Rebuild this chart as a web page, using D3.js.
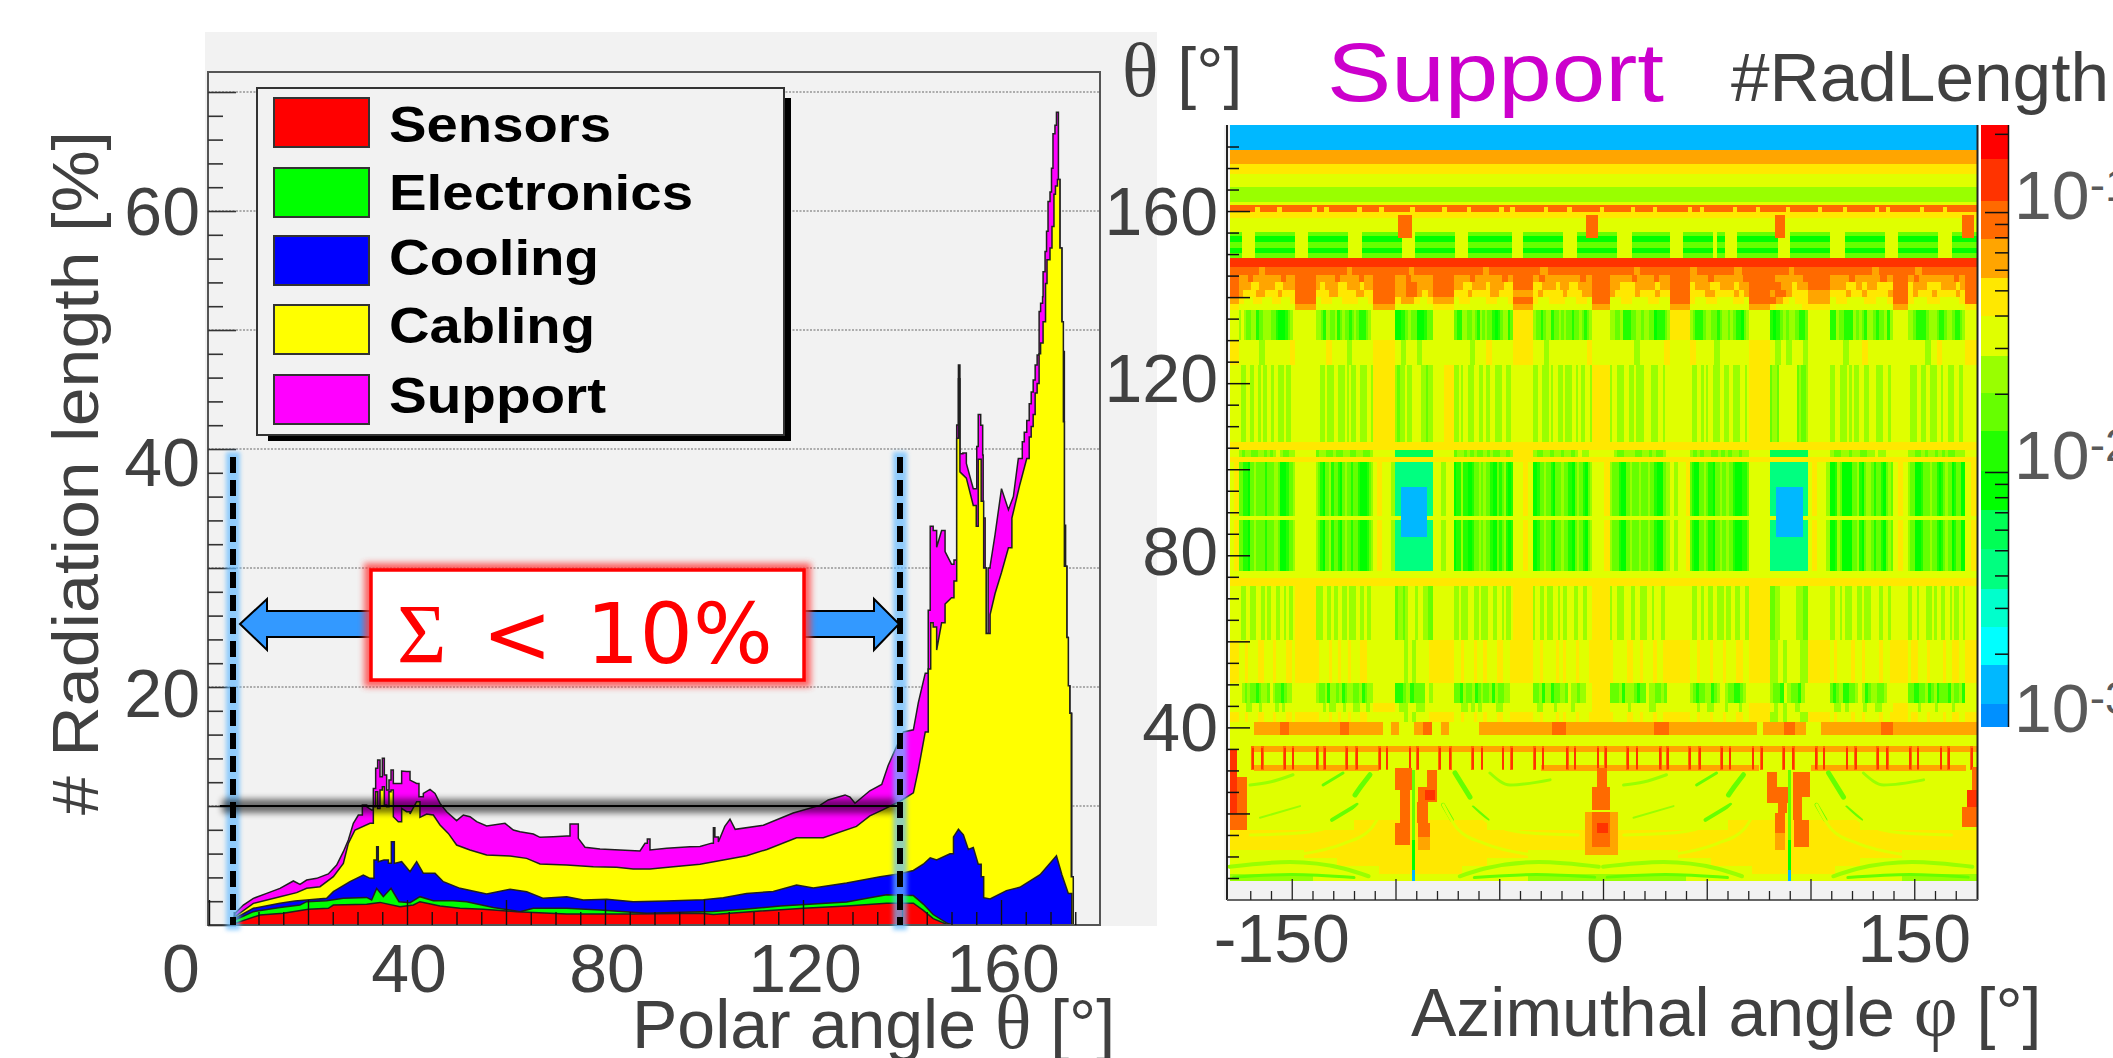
<!DOCTYPE html>
<html>
<head>
<meta charset="utf-8">
<script src="https://cdn.jsdelivr.net/npm/d3@7"></script>
<style>
  html, body { margin: 0; padding: 0; background: #fff; overflow: hidden; }
  text { font-family: "Liberation Sans", sans-serif; fill: #404040; }
</style>
</head>
<body>
<svg id="chart" width="2113" height="1058"></svg>
<script>
// ---- left panel: stacked radiation length, each layer read as its stack top
const sensorsTheta = [4.8,5.25,10.3,15,20.07,24.11,25.12,31.85,34.55,38.59,41.28,42.62,46.67,50.71,55.42,62.16,72.26,85.72,99.19,101.9,110,120.1,128.8,136.9,142.3,144.3,146.3,149,149.7];
const sensorsTop   = [0,0.14,0.84,0.98,1.32,1.4,1.68,1.74,1.9,1.54,1.68,1.96,1.6,1.4,1.32,1.12,0.92,0.92,0.98,0.88,1.13,1.41,1.59,1.83,1.83,1.23,0.53,0.07,0];

const electronicsTheta = [4.8,5.25,8.96,14.34,18.38,19.73,23.77,27.14,31.85,32.86,33.87,35.22,36.77,38.38,40.61,42.62,45.32,49.36,52.05,57.44,60.81,62.83,65.52,72.26,78.99,88.42,99.19,101.9,108.6,115.4,122.1,128.8,133.5,136.9,142.3,144.3,146.3,149,150];
const electronicsTop   = [0,0.42,1.12,1.48,1.68,1.96,2.04,2.24,2.32,2.1,3.08,2.38,3.08,1.96,1.88,2.38,2.04,2.04,1.96,1.48,1.26,1.12,1.4,1.4,1.26,0.98,1.12,1.13,1.34,1.59,1.76,1.94,2.29,2.54,2.47,1.76,0.88,0.18,0];

const coolingTheta = [4.8,5.25,8.96,14.34,17.37,19.73,23.77,25.12,28.48,31.18,32.53,33.33,33.87,34.2,35.35,36.23,36.84,37.44,38.92,40.61,41.95,43.3,45.66,47.34,50.71,56.09,60.81,64.18,67.54,72.26,75.62,80.34,85.72,92.46,99.9,103.9,108.6,114,118.7,122.1,128.8,135.6,139.6,142.3,144.3,145.7,147,149.7,150.4,151.4,152.4,153.4,154.4,155.4,156,156.5,157.8,161.1,163.8,167.9,171.2,172.3,173.6,174.3];
const coolingTop   = [0,0.56,1.4,1.82,2.02,2.1,2.24,2.8,3.64,4.2,3.92,5.46,6.58,5.32,5.46,5.18,7,5.18,5.32,4.48,5.32,4.34,4.34,3.64,3.08,2.61,3,2.8,2.24,2.38,2.1,2.16,1.96,2.02,2.12,2.29,2.64,2.82,3.35,3.1,3.53,4.05,4.3,4.58,5.11,5.64,5.47,5.99,7.4,8.04,7.58,6.35,6.52,5.11,4.05,2.29,2.19,2.89,3.17,4.23,5.82,4.23,2.64,0];

const cablingTheta = [4.8,5.25,8.96,14.34,17.71,19.73,22.42,25.12,27.14,28.15,29.5,32.53,33.2,33.67,34.07,34.55,35.02,35.42,35.89,36.36,36.77,37.24,38.25,38.92,39.93,40.61,41.95,42.62,43.97,45.32,46.67,48.35,50.03,52.73,56.09,60.81,64.18,66.87,72.26,77.64,82.36,85.72,89.09,93.8,99.2,103.9,108.6,112.7,118.7,124.1,130.8,133.5,136.2,139.6,142.3,143.3,144.7,145.3,145.8,146.3,147,148,148.7,150,150.5,151.05,151.4,151.7,153,154.4,155,155.4,156,156.5,157,157.8,158.8,160.1,161.5,162.2,163.8,165.2,165.7,166.1,166.5,166.9,167.3,167.7,168,168.5,169,169.3,169.9,170.3,170.7,171,171.4,171.9,172.3,172.6,172.8,173.3,173.6,173.9,174.2,174.6];
const cablingTop   = [0,0.7,1.82,2.38,2.72,3.08,3.22,4.06,5.18,6.86,7.98,8.54,9.94,11.2,9.8,11.34,11.62,10.08,9.94,11.2,11.34,9.1,8.68,9.8,9.52,9.33,10.36,9.05,9.33,9.24,8.4,7.7,6.72,6.3,5.88,5.8,5.6,5.13,5.04,4.9,4.85,4.71,4.71,4.9,5.11,5.47,5.82,6.35,7.33,7.33,8.29,9.17,9.7,10.4,11.11,13.05,16.22,21.51,25.39,25.04,23.1,25.39,26.97,27.5,28.91,40.9,45.9,38.08,37.55,35.26,33.5,39.14,35.6,30,24.5,26.09,27.86,29.62,31.7,34.2,37,39.2,41,41.9,42.9,44.7,45.5,48,48.9,50.7,53.9,55.9,56.9,58.7,61.4,62.1,62.65,56.9,50.7,42.3,30.15,24.15,20.1,17.8,4.05,0];

const supportTheta = [4.8,5.25,6.94,8.96,11.65,14.34,17.04,18.38,19.73,21.75,24.11,25.79,27.14,28.15,29.16,30.17,30.98,31.85,32.86,33.2,33.67,34.07,34.55,35.02,35.42,35.89,36.36,36.77,37.24,37.71,38.38,38.92,39.93,40.61,41.95,42.42,43.3,44.65,45.66,46.67,48.01,50.03,51.38,52.73,54.07,56.09,59.8,61.48,62.83,65.52,66.87,69.56,72.26,72.93,73.8,74.61,75.96,78.99,83.03,87.07,88.08,88.55,89.09,92.46,97.17,99.2,101.55,101.9,102.2,102.9,104.2,105.25,106.3,112,118,123.4,125.1,128.5,129.5,130.5,133.5,135.9,137.2,138.9,140.3,142.3,143.3,144.7,145.3,145.7,146.3,147,148,148.7,150,150.5,151.05,151.4,151.7,152.3,153,154.4,155.1,155.4,155.9,156.3,156.4,156.8,157,157.4,157.8,158.8,160.1,161.5,162.5,163.5,164.3,164.7,165.2,165.7,166.1,166.5,166.9,167.3,167.7,168,168.4,168.5,168.9,169.2,169.5,169.9,170.2,170.5,170.9,171.2,171.6,171.9,172.3,172.8,173.05,173.3,173.6,173.9,174.3,174.6];
const supportTop   = [0,0.98,1.68,2.24,2.66,3.08,3.7,3.42,3.78,3.92,4.29,5.04,6.16,7.14,8.54,9.24,10.08,9.94,9.66,11.48,13.17,13.87,12.46,14.01,12.61,11.34,12.18,13.03,11.9,11.9,11.9,12.94,12.89,12.18,11.9,10.78,11.06,11.4,11.06,10.22,9.52,8.77,9.24,9.1,8.68,8.32,8.54,7.98,7.84,7.65,7.37,7.42,7.48,8.49,8.49,7.28,6.53,6.39,6.3,6.22,6.86,7.23,6.3,6.44,6.58,6.59,6.88,8.18,7.4,6.98,8.29,8.89,8.04,8.39,9.41,10.05,10.51,10.93,10.75,10.23,11.28,11.81,13.4,14.99,16.22,16.4,18.69,21.16,26.45,33.5,33.15,31.74,33.15,31.38,30.32,30.68,42.02,47.06,39.6,39.67,38.79,36.67,40.2,42.9,42,39.5,34.2,30,24.5,30,30.15,32.8,36.67,34.9,36,39.2,40.6,41.4,42.4,43.8,44.8,45.8,47.06,47.9,51.55,52.25,52.8,54.9,56.6,58.3,60.8,61.6,63.6,66.5,67.2,68.3,62.65,56.9,48.2,33.6,30.15,24.15,20.1,17.8,4.05,0];

const layerNames  = ["Sensors","Electronics","Cooling","Cabling","Support"];
const layerColors = ["#ff0000","#00ff00","#0000ff","#ffff00","#ff00ff"];
const legendWidths = [222,304,210,206,217];
const legendBase   = [142,210,275,343,413];

// ---- right panel: material map, cells as colour level codes a..p
const levelCodes  = "abcdefghijklmnop";
const levelColors = ["#0090ff","#00b8ff","#00ffff","#00ffcc","#00ff80","#00ff55","#00ff00","#22ff00","#66ff00","#99ff00","#e0ff00","#ffe800","#ffa500","#ff6a00","#ff3300","#ff0000"];
const levelEdgesLog = [-2.981,-2.892,-2.742,-2.596,-2.45,-2.295,-2.146,-1.995,-1.844,-1.695,-1.552,-1.398,-1.252,-1.102,-0.956,-0.796,-0.665];
const colorbarTicks = [0.002,0.003,0.004,0.005,0.006,0.007,0.008,0.009,0.01,0.02,0.03,0.04,0.05,0.06,0.07,0.08,0.09,0.1,0.2];

// phi sectors of the barrel: gap, module group, gap, ...
const sectors = [[-180,-175.4],[-175.4,-148.4],[-148.4,-138.3],[-138.3,-110.8],[-110.8,-100.2],[-100.2,-81.9],[-81.9,-71.8],[-71.8,-43.4],[-43.4,-33.7],[-33.7,-5.3],[-5.3,3.4],[3.4,32.3],[32.3,41.9],[41.9,70.4],[70.4,80.5],[80.5,98.8],[98.8,109.4],[109.4,139.8],[139.8,147],[147,174.5],[174.5,180]];

const rowTier1 = ["n","nnnnmnnnnnn","n","nnnnnnmnnnn","n","nnnmnnnn","n","nnnnnmnnnn","n","nmnnnnnn","n","nnnnmnnnnn","n","mnnnnnmn","n","nnnnmnnn","n","nnnnnnmnn","n","nmnnnnnn","n"];
const rowTier2 = ["n","mmnmmmmmmnmm","n","mmmmnmmmmnmm","n","mmnmmmm","n","mmmnmmmmmnm","n","mnmmmmmmnm","n","mmmmnmmmnmm","n","mmmnmmmmmn","n","nmmmmmn","n","mmmnmmmmnm","n","mnmmmmmmnm","n"];
const rowTier3 = ["n","mmmllmmmmllmmm","n","mlmmmllmmmlmm","n","mmnnmmm","n","mmllmmmlmmmll","n","llmmmlmmllmmm","n","mmlllmmmmlmm","n","lmmmllmmmlmm","n","nnmmlmm","n","mmmllmlmmlll","n","lmmmlllmmmlm","n"];
const rowTier4 = ["n","mlllmmlllmlll","n","lllmmllllmmll","n","mmnnmlm","n","lllmllllmmlll","m","lmllllmlllmm","n","mllllmlllmll","n","lllmmllllmlm","n","mnnmlll","m","lllmllmllllm","n","lmlllmllllml","n"];
const rowTier5 = ["m","lkkllkkllkkl","n","kllkklllkkl","n","lmmlkl","m","kllkkkllkkl","n","lkklllkkllk","n","kkllkkkllkk","n","lkkllkkkllk","n","nmlkll","m","kllkkkllkkl","n","lkkllkkkl","n"];
const rowTier6 = ["l","kkkkkkkkk","m","kkkkkkkkk","m","kkkkkk","l","kkkkkkkkk","m","kkkkkkkkk","m","kkkkkkkkk","m","kkkkkkkkk","m","lkkkkl","l","kkkkkkkkk","m","kkkkkkkkk","l"];

const barrelUpper = ["k","jkjiijjhiijjjiihggghijk","k","jjihjjiijhijiihijihhhijk","k","gghijiigghii","k","ihhjjiijihjijiihghijjhi","l","jiihijjhiijijiihiijihij","k","jjiijhhhiijjijjiighhhij","l","jihhhijjiihijjijihhgij","k","hghijijjihhi","k","hhjiihhhjijihjjihiijhj","k","jjihhhhijjjihhijjihhij","k"];
const barrelStrong = ["kl","iihhgiijiiiihiiijjiggghiij","kkkkk","jihgiijhiihgijiihiihggghij","klkkj","e","kkjkk","ghhjhhgghiijijiihggihijhgh","kklk","gghiijiihgiiijiihhgijiihgij","kkl","jiiihggiijiiijiiijiihgggijj","kjkkl","ihggiijihhgiijiijiihggghhi","kkkk","e","klkkj","gghjiggggiijhgijjihiihgiji","klk","jiiggghiiijiihghijiighiigg","kl"];
const barrelThin = ["k","jijjiijjijijkjiijj","k","ijjiijiijjiijjiij","k","f","k","ijjijijiijijiijjij","l","jiijjijjijjijkjjk","k","kjiijjjiijjijiijk","k","jijijjiijijijjijj","k","f","k","jiijjijjiijjkjjkk","k","jjiijijjijijiijjj","k"];
const barrelFaint = ["l","kkkkjkkkkkl","k","kklkkkjkkkk","l","kjkkjkk","k","kkkjkklkkkk","l","kkjkkkkkkkl","k","kkkkjkkkkl","k","lkkkjkkkkk","l","kjkjkkj","k","kkjkklkkkk","k","kkkjklkkkk","l"];
const barrelPaleUpper = ["k","kjjkkjjkkjkjjkkjkkjjjkjjkk","k","kkjjkjjjkkjjjkjkjjkkjjjkkj","l","jijjkjjkkkkjjijj","kl","jjkjkkjjjkkjjkjjkkjjjkkjjk","k","jjkkjjjkjkkjjkjjjkkjkjjkkj","l","jkkjjjkkjjkjjjkkkjjjkkjkk","k","kjjkkjkjkkjjjkkjjkkjjjkkjk","l","ijjikkkkkkkkijiij","k","jjkkjjjkjkjjkkjjkkkjjjkkjk","k","kjjjkkjjkkjjjkkjkkjjjkkjjk","k"];
const barrelPaleLower = ["k","kjjkkjjjkkjjkjjkkjjkkjkjjk","l","jjjkkjjkjjkkjjkjjjkkjjkjjk","k","ijjijkkkjkkjjii","k","jjkjjjkkkjjkjjjkkjjkkjkjjk","l","jkkjjkjjjkkjkjjkkkjjkkjjkk","l","jkkjjjkkkjjkkjjjkkjkkkjjkk","k","kjjkkjkkjjkkjjjkjjkkjjkkjj","l","iijjkkkkkkkjjjii","k","jjkkjkjjjkkjjkjjjkkkjjkkjk","k","jjkkjkkkjjjkjkkjjkkjkjjkkj","k"];
const barrelYellow = ["l","kklkkkllkkklkkkllk","l","lkkklkklkklkkkllkk","k","kkjkjkkkl","l","kklkkklkklkkkllkkl","l","kklkkkklklkkklkkkl","l","lkkkkllkklkkklkkll","l","kklkkklkkklkkkllkk","l","jjkjkkkjj","l","klkkkklkklkkkklkkl","l","kllkkklkkkklkkllkk","l"];
const barrelGreenLow = ["k","kjijiihijjikjiihijjk","k","jiijhjjijhijjiijhijj","k","hhijhiiikj","k","iihjiijhijiijhjiijjk","k","iijhjjhiijjikjjijjkk","l","iiijhjjjihiikjjiijik","k","jihiijjhijkkjiihhijk","k","jiihkjiihjk","k","ihijhhiijkjhijjiijkk","k","iihhiijhijhiiihjiijh","k"];
const barrelGreenEnd = ["k","kkjjkkjkkkkjkjkkk","k","kkjkjjkkjkkjjkkjk","l","kjjkkjjkk","k","kkjjkjkjkkkkjjkkk","k","kjjkkkjkkkkjkkkkk","l","kkkkkjkkkkkjjkkkk","k","kkjkkjjkkkjkkkjkk","l","kjkjkkjkk","k","kjjkjkkkkjkkjjkkk","l","kkkjkkkkjkkkkjkkk","k"];

const flat = code => [[-180, 180, code]];
const orangeBand = [[-180,-168,"k"],[-168,-106,"mmmnmmmmmmnmmmm"],[-106,-91,"kmkk"],[-91,-74,"mnkm"],[-74,-60,"k"],[-60,74,"mmmmmnmmmmmmnmmmmmm"],[74,77,"k"],[77,103,"mmnmk"],[103,105,"k"],[105,180,"mmmmmnmmmmmmm"]];
const rowMid = [[-180,-168,"k"],[-168,180,"m"]];
const rowLow = [[-180,-168,"k"],[-168,-108,"m"],[-108,-30,"k"],[-30,75,"m"],[75,100,"k"],[100,175,"m"],[175,180,"k"]];

// base level below theta 30: one 180 degree period, top to bottom
const arcRows = [
  "kkkkkkkkkkkkkkkkkkkkkkkkkkkkkkkkkkkkkkkkkkkkk",
  "kkkkkkkkkkkkkkkkkkkkkkkkkkkkkkkkkkkkkkkkkkkkk",
  "kkkkkkkkkkkkkkkkkkkkkkkkkkkkkkkkkkkkkkkkkkkkk",
  "kkkkkkkkkkkkkkkkkkkkkkkkkkkkkkkkkkkkkkkkkkkkk",
  "kkkkkkkkkkkkkkkkkkkkkkkkkkkkkkkkkkkkkkkkkkkkk",
  "kkkkkkkkkkkkkkkllllllllllllllllkkkkkkkkkkkkkk",
  "llllllllllllllllllllllllllllllllllllllllllllll",
  "llllllllllllllllllllllllllllllllllllllllllllll",
  "kkkkkkkkklllllllllllllllllllllllllllkkkkkkkkk",
  "kkkkkkkkkkkkkllllllllllllllllllkkkkkkkkkkkkkk",
  "kkkkkkkkkkkkkkkkkkllllllllllkkkkkkkkkkkkkkkkk",
  "jjjjjjjjjjkkkkkkkkkkkkkkkkkkkkkkkkkkjjjjjjjjj"
];
const arcEdges = [29.9,27.8,25.5,23.1,20.8,18.5,16.2,13.8,11.5,9.7,7.8,5.9,4.3];

// fine arcs of the end caps, one period: level, width, [phi, theta] points
const arcStrokes = [
  ["j",3,[[-170.1,26.6],[-160.5,27.3],[-149.4,29]]],
  ["i",3,[[-134.9,26.6],[-125.3,29.4]]],
  ["i",5,[[-119.5,24.3],[-116.1,26.6],[-112.3,29]]],
  ["i",4,[[-130.6,18.5],[-118.6,22]]],
  ["j",2,[[-165.3,19],[-146,21.7]]],
  ["i",5,[[-71.3,29.4],[-64.1,23.8]]],
  ["i",4,[[-77.1,22],[-72.8,18.5]]],
  ["i",3,[[-62.7,21.5],[-55.4,18.5]]],
  ["j",3,[[-54.5,29.4],[-44.8,26.6],[-25.5,27.8]]],
  ["k",3,[[-146,10.5],[-125,13],[-112.3,16.2],[-105,22]]],
  ["k",3,[[-36,10.5],[-57,13],[-69.7,16.2],[-77,22]]],
  ["k",3,[[-170,15],[-145,15.5],[-126.7,18],[-115,23]]],
  ["k",3,[[-12,15],[-37,15.5],[-55.3,18],[-67,23]]],
  ["j",4,[[-180,7.6],[-150.8,8.7],[-125,7.2],[-113,5.4]]],
  ["j",4,[[-2,7.6],[-31,8.7],[-57,7.2],[-69,5.4]]],
  ["i",3,[[-178,5.2],[-150,5.8],[-120,5.1]]],
  ["i",3,[[-4,5.2],[-32,5.8],[-62,5.1]]]
];

// bands from top to bottom: theta high, theta low, texture
const mapBands = [
  [180,174.3,flat("b")],[174.3,171,flat("m")],[171,168.7,flat("l")],[168.7,165.7,flat("k")],[165.7,162.2,flat("j")],
  [162.2,161.3,flat("k")],[161.3,159.7,flat("n")],[159.7,158.3,flat("l")],[158.3,149.2,flat("k")],
  [149.2,147.1,flat("o")],[147.1,145.2,rowTier1],[145.2,143.4,rowTier2],[143.4,141.7,rowTier3],[141.7,140.1,rowTier4],
  [140.1,138.5,rowTier5],[138.5,137.1,rowTier6],[137.1,130.1,barrelUpper],[130.1,124.3,barrelFaint],[124.3,106.4,barrelPaleUpper],
  [106.4,104.5,flat("l")],[104.5,102.9,barrelThin],[102.9,101.7,flat("l")],[101.7,89.2,barrelStrong],[89.2,88.3,flat("k")],
  [88.3,76.4,barrelStrong],[76.4,74.8,flat("k")],[74.8,72.9,flat("l")],[72.9,60.3,barrelPaleLower],[60.3,50.3,barrelYellow],
  [50.3,45.7,barrelGreenLow],[45.7,43.5,barrelGreenEnd],[43.5,41.3,barrelYellow],[41.3,38.3,orangeBand],[38.3,35.7,flat("k")],
  [35.7,34.2,rowMid],[34.2,31.3,flat("k")],[31.3,29.9,rowLow]
];

// stave chunks of the green band near theta 152
const staveChunks = [[-180,-174],[-167.7,-148.4],[-142.2,-122.9],[-116.1,-96.9],[-90.6,-71.3],[-65.1,-43.9],[-38.6,-19.3],[-12.5,6.7],[14,32.3],[38.6,53],[54.9,58.8],[64.6,84.3],[90.1,109.4],[116.6,135.9],[142.2,161.4],[168.2,180]];
const staveRows = [[155.2,154.3,"i"],[154.3,152.7,"g"],[152.7,151.5,"i"],[151.5,150.3,"g"],[150.3,149.2,"i"]];
const tileGapPhi = [-166.5,-155.9,-139,-133.3,-117.4,-106.8,-91.8,-76.4,-64.6,-48.9,-43.6,-27.5,-16.1,-0.5,14.5,25,41.9,47.7,63.6,74.7,89.2,104.6,116.6,132,137.3,153.7,164.8];
const redStripePhi = [-168.7,-164.3,-153.3,-149.4,-137.8,-134,-123.4,-118.6,-107.5,-104.1,-93,-89.2,-78.6,-73.7,-62.7,-58.3,-48.2,-43.9,-32.8,-28.9,-17.3,-13.5,-2.4,1.4,12,16.4,27.5,31.3,41.9,46.7,57.3,61.2,72.3,76.6,87.2,91.6,102.7,106.5,117.6,121.9,132.5,136.9,148,151.8,162.9,166.7,177.8];

// rectangular patches: phi from, phi to, theta high, theta low, level
const mapPatches = [
  [-98.8,-92,159,153.8,"n"],[-8.2,-2.4,159,153.8,"n"],[82.9,87.7,159,153.8,"n"],[173,178.8,159,153.8,"n"],
  [-97.5,-84.7,95.9,84.3,"b"],[83.4,96.4,95.9,84.3,"b"],
  [-100.2,-92,30.6,25.5,"n"],[-97.8,-93,25.5,17.8,"n"],[-100.2,-93,17.8,12.7,"n"],
  [-84.8,-80,30.1,26.2,"n"],[-89.2,-80,26.2,22.7,"n"],[-85.8,-81,25.5,23.1,"o"],[-89.6,-84.3,22.7,17.8,"n"],[-89.2,-83.4,17.8,14.5,"n"],[-89.2,-83.4,14.5,11.5,"m"],
  [-2.9,1.9,30.6,26.2,"n"],[-5.3,3.4,26.2,20.8,"n"],[-8.7,7.2,20.3,12.2,"m"],[-5.3,3.4,20.3,12.2,"n"],[-2.9,2.4,17.8,15.5,"o"],[-8.7,7.2,12.2,10.3,"m"],
  [79,83.9,29.7,26.2,"n"],[79,89.2,26.2,22.4,"n"],[84.3,88.7,22.4,20.1,"n"],[82.9,87.7,20.1,15.5,"n"],[82.9,87.7,15.5,11.5,"m"],
  [91.6,99.8,29.7,23.8,"n"],[91.6,95.9,23.8,18.5,"n"],[92,99.3,18.5,12.2,"n"],
  [177.8,180,30.8,25.5,"n"],[175.4,180,25.5,21.5,"o"],[173,180,21.5,16.9,"n"],
  [-180,-171.6,28.5,16.2,"n"],[-180,-176.4,34.8,20.1,"o"],
  [-92,-90.6,30.1,13.8,"i"],[-92,-90.6,13.8,6.9,"g"],[-92,-90.6,6.9,4.3,"b"],
  [89.2,90.4,30.1,13.8,"i"],[89.2,90.4,13.8,6.9,"g"],[89.2,90.4,6.9,4.3,"b"]
];

const svg = d3.select("#chart");
const defs = svg.append("defs");
[["blur2", 2], ["blur3", 3], ["blur4", 4]].forEach(([id, s]) => {
  defs.append("filter").attr("id", id).attr("x", "-50%").attr("y", "-50%").attr("width", "200%").attr("height", "200%")
      .append("feGaussianBlur").attr("stdDeviation", s);
});

// left panel scales
const xL = d3.scaleLinear().domain([0, 180]).range([209, 1100]);
const yL = d3.scaleLinear().domain([0, 70]).range([925, 92]);

svg.append("rect").attr("x", 205).attr("y", 32).attr("width", 952).attr("height", 894).attr("fill", "#f2f2f2");

const gridL = svg.append("g");
gridL.selectAll("line").data(d3.range(10, 71, 10)).join("line")
  .attr("x1", 208).attr("x2", 1100).attr("y1", yL).attr("y2", yL)
  .attr("stroke", "#666").attr("stroke-width", 1.2).attr("stroke-dasharray", "2 1.5");

// histogram look: hold the value up to the next bin where samples are one bin apart
const toBins = (th, top) => {
  const pts = [];
  th.forEach((t, i) => {
    pts.push([t, top[i]]);
    if (i < th.length - 1 && th[i + 1] - t < 0.9 && t >= 28) pts.push([th[i + 1], top[i]]);
  });
  return pts;
};

const area = d3.area().x(d => xL(d[0])).y0(yL(0)).y1(d => yL(d[1]));
const layers = [
  [supportTheta, supportTop, 4], [cablingTheta, cablingTop, 3], [coolingTheta, coolingTop, 2],
  [electronicsTheta, electronicsTop, 1], [sensorsTheta, sensorsTop, 0]
];
layers.forEach(([th, top, idx]) => {
  svg.append("path").datum(toBins(th, top))
    .attr("d", area).attr("fill", layerColors[idx])
    .attr("stroke", "#202020").attr("stroke-width", 1.5);
});

// frame and axes of left panel
svg.append("rect").attr("x", 208).attr("y", 72).attr("width", 892).attr("height", 853)
  .attr("fill", "none").attr("stroke", "#555").attr("stroke-width", 2);

const leftAxisY = svg.append("g").attr("transform", "translate(208,0)")
  .call(d3.axisRight(yL).tickValues(d3.range(0, 71, 2)).tickFormat("").tickSizeOuter(0));
leftAxisY.select(".domain").remove();
leftAxisY.selectAll("line").attr("stroke", "#333").attr("stroke-width", 1.6).attr("x2", d => d % 10 === 0 ? 28 : 15);

const leftAxisX = svg.append("g").attr("transform", "translate(0,925)")
  .call(d3.axisTop(xL).tickValues(d3.range(0, 176, 5)).tickFormat("").tickSizeOuter(0));
leftAxisX.select(".domain").remove();
leftAxisX.selectAll("line").attr("stroke", "#111").attr("stroke-width", 1.4).attr("y2", d => d % 20 === 0 ? -25 : -13);

// legend
svg.append("rect").attr("x", 268).attr("y", 98).attr("width", 523).attr("height", 343).attr("fill", "#000");
svg.append("rect").attr("x", 257).attr("y", 88).attr("width", 527).attr("height", 347).attr("fill", "#f2f2f2").attr("stroke", "#333").attr("stroke-width", 2);
const swatchY = [98, 168, 236, 305, 375];
layerNames.forEach((name, i) => {
  svg.append("rect").attr("x", 274).attr("y", swatchY[i]).attr("width", 95).attr("height", 49)
    .attr("fill", layerColors[i]).attr("stroke", "#333").attr("stroke-width", 2);
  svg.append("text").attr("x", 389).attr("y", legendBase[i]).text(name)
    .attr("font-size", 50).attr("font-weight", "bold").style("fill", "#000")
    .attr("textLength", legendWidths[i]).attr("lengthAdjust", "spacingAndGlyphs");
});

// limit markers: blue halo, dashed black lines, shadowed horizontal line
[233, 900].forEach(x => {
  svg.append("rect").attr("x", x - 7).attr("width", 14).attr("y", 452).attr("height", 478)
    .attr("fill", "#66bbff").attr("opacity", 0.7).attr("filter", "url(#blur2)");
  svg.append("line").attr("x1", x).attr("x2", x).attr("y1", 457).attr("y2", 925)
    .attr("stroke", "#000").attr("stroke-width", 6).attr("stroke-dasharray", "16 7");
});
svg.append("rect").attr("x", 222).attr("width", 673).attr("y", yL(10) - 7).attr("height", 14)
  .attr("fill", "#000").attr("opacity", 0.55).attr("filter", "url(#blur3)");
svg.append("line").attr("x1", 220).attr("x2", 897).attr("y1", yL(10)).attr("y2", yL(10))
  .attr("stroke", "#000").attr("stroke-width", 2);

// double arrow
const arrowPts = [[240,624],[267,599],[267,611],[874,611],[874,599],[899,624],[874,650],[874,637],[267,637],[267,650]];
svg.append("polygon").attr("points", arrowPts.join(" ")).attr("fill", "#3399ff").attr("stroke", "#000").attr("stroke-width", 2);

// sum box
svg.append("rect").attr("x", 371).attr("y", 570).attr("width", 433).attr("height", 110)
  .attr("fill", "#ff4040").attr("stroke", "#ff4040").attr("stroke-width", 14).attr("opacity", 0.8).attr("filter", "url(#blur3)");
svg.append("rect").attr("x", 371).attr("y", 570).attr("width", 433).attr("height", 110)
  .attr("fill", "#fff").attr("stroke", "#ff0000").attr("stroke-width", 3.5);
svg.append("text").attr("x", 397).attr("y", 663).text("Σ").attr("font-size", 85)
  .style("font-family", "Liberation Serif").style("fill", "#f00");
svg.append("text").attr("x", 482).attr("y", 663).text("<").attr("font-size", 84)
  .style("font-family", "DejaVu Sans").style("fill", "#f00");
svg.append("text").attr("x", 586).attr("y", 663).text("10%").attr("font-size", 84)
  .style("font-family", "DejaVu Sans").style("fill", "#f00");

// left panel labels
const axisFont = 68;
[[60, 0], [40, 13], [20, 6]].forEach(([v, dy]) => {
  svg.append("text").attr("x", 200).attr("y", yL(v) + dy + 24).attr("text-anchor", "end").attr("font-size", axisFont).text(v);
});
[0, 40, 80, 120, 160].forEach((v, i) => {
  svg.append("text").attr("x", xL(v) + (i === 0 ? -28 : 2)).attr("y", 992).attr("text-anchor", "middle").attr("font-size", axisFont).text(v);
});
const xTitle = svg.append("text").attr("x", 632).attr("y", 1048).attr("font-size", 68);
xTitle.append("tspan").text("Polar angle ");
xTitle.append("tspan").style("font-family", "Liberation Serif").attr("font-size", 76).text("θ");
xTitle.append("tspan").text(" [°]");
svg.append("text").attr("transform", "translate(98,815) rotate(-90)").attr("font-size", 64)
  .attr("textLength", 684).attr("lengthAdjust", "spacingAndGlyphs").text("# Radiation length [%]");

// right panel
const xR = d3.scaleLinear().domain([-180, 180]).range([1229.5, 1976.5]);
const yR = d3.scaleLinear().domain([0, 180]).range([899.5, 125]);
const levelColor = code => levelColors[levelCodes.indexOf(code)];

svg.append("rect").attr("x", 1224).attr("y", 125).attr("width", 754).attr("height", 775).attr("fill", "#f2f2f2");

// turn a texture into cells; a sector texture has one string per sector
const toCells = tex => {
  const parts = typeof tex[0] === "string" ? tex.map((s, i) => [sectors[i][0], sectors[i][1], s]) : tex;
  const cells = [];
  parts.forEach(([p0, p1, s]) => {
    const w = (p1 - p0) / s.length;
    for (let i = 0; i < s.length; i++) cells.push([p0 + i * w, p0 + (i + 1) * w, s[i]]);
  });
  return cells;
};

const mapG = svg.append("g").attr("shape-rendering", "crispEdges");
const drawCell = (p0, p1, t0, t1, code) => {
  mapG.append("rect")
    .attr("x", xR(p0)).attr("width", Math.max(1, xR(p1) - xR(p0)))
    .attr("y", yR(t0)).attr("height", Math.max(1, yR(t1) - yR(t0)))
    .attr("fill", levelColor(code));
};

mapBands.forEach(([t0, t1, tex]) => {
  toCells(tex).forEach(([p0, p1, code]) => drawCell(p0, p1, t0, t1, code));
});
arcRows.forEach((row, r) => {
  toCells([[-180, 0, row], [0, 180, row]]).forEach(([p0, p1, code]) => drawCell(p0, p1, arcEdges[r], arcEdges[r + 1], code));
});

// arcs repeat every 180 degrees
const arcLine = d3.line().x(d => xR(d[0])).y(d => yR(d[1])).curve(d3.curveMonotoneX);
const arcG = svg.append("g").attr("fill", "none").attr("stroke-linecap", "round");
[0, 180].forEach(shift => {
  arcStrokes.forEach(([code, w, pts]) => {
    arcG.append("path").datum(pts.map(p => [p[0] + shift, p[1]]))
      .attr("d", arcLine).attr("stroke", levelColor(code)).attr("stroke-width", w);
  });
});

const topG = svg.append("g").attr("shape-rendering", "crispEdges");
const drawTop = (p0, p1, t0, t1, code) => {
  topG.append("rect")
    .attr("x", xR(p0)).attr("width", Math.max(1, xR(p1) - xR(p0)))
    .attr("y", yR(t0)).attr("height", Math.max(1, yR(t1) - yR(t0)))
    .attr("fill", levelColor(code));
};
tileGapPhi.forEach(p => drawTop(p - 1.1, p + 1.1, 160.9, 159.7, "l"));
staveRows.forEach(([t0, t1, code]) => staveChunks.forEach(([p0, p1]) => drawTop(p0, p1, t0, t1, code)));
redStripePhi.forEach(p => {
  drawTop(p - 0.7, p + 0.7, 35.7, 30, "n");
  drawTop(p - 0.3, p + 0.3, 35.2, 30.4, "o");
});
mapPatches.forEach(([p0, p1, t0, t1, code]) => drawTop(p0, p1, t0, t1, code));

// right panel frame and ticks
svg.append("line").attr("x1", 1227).attr("x2", 1227).attr("y1", 125).attr("y2", 900).attr("stroke", "#222").attr("stroke-width", 2);
svg.append("line").attr("x1", 1977.5).attr("x2", 1977.5).attr("y1", 125).attr("y2", 900).attr("stroke", "#222").attr("stroke-width", 2);
svg.append("line").attr("x1", 1227).attr("x2", 1978).attr("y1", 900).attr("y2", 900).attr("stroke", "#666").attr("stroke-width", 2);

const rightAxisY = svg.append("g").attr("transform", "translate(1227,0)")
  .call(d3.axisRight(yR).tickValues(d3.range(5, 180, 5)).tickFormat("").tickSizeOuter(0));
rightAxisY.select(".domain").remove();
rightAxisY.selectAll("line").attr("stroke", "#111").attr("stroke-width", 1.5).attr("x2", d => d % 20 === 0 ? 23 : 12);

const rightAxisX = svg.append("g").attr("transform", "translate(0,900)")
  .call(d3.axisTop(xR).tickValues(d3.range(-170, 180, 10)).tickFormat("").tickSizeOuter(0));
rightAxisX.select(".domain").remove();
rightAxisX.selectAll("line").attr("stroke", "#222").attr("stroke-width", 1.3).attr("y2", d => d % 50 === 0 ? -21 : -9);

// colour bar
const yC = d3.scaleLog().domain([Math.pow(10, -2.981), Math.pow(10, -0.665)]).range([727, 125]);
const barG = svg.append("g").attr("shape-rendering", "crispEdges");
levelColors.forEach((c, i) => {
  const top = yC(Math.pow(10, levelEdgesLog[i + 1]));
  const bot = yC(Math.pow(10, levelEdgesLog[i]));
  barG.append("rect").attr("x", 1981).attr("width", 27).attr("y", top).attr("height", bot - top).attr("fill", c);
});
svg.append("line").attr("x1", 2008.5).attr("x2", 2008.5).attr("y1", 125).attr("y2", 727).attr("stroke", "#111").attr("stroke-width", 1.5);
const barAxis = svg.append("g").attr("transform", "translate(2008,0)")
  .call(d3.axisLeft(yC).tickValues(colorbarTicks).tickFormat("").tickSizeOuter(0));
barAxis.select(".domain").remove();
barAxis.selectAll("line").attr("stroke", "#111").attr("stroke-width", 1.5).attr("x2", d => [0.1, 0.01].includes(d) ? -23 : -13);

// colour bar labels
[[0.1, "-1", 6.5], [0.01, "-2", 6.7], [0.001, "-3", 0]].forEach(([v, exp, dy]) => {
  const t = svg.append("text").attr("x", 2014).attr("y", yC(v) + dy).attr("font-size", 68).style("fill", "#595959");
  t.append("tspan").text("10");
  t.append("tspan").attr("font-size", 46).attr("dy", -18).text(exp);
});

// right panel text
[[160, 0], [120, -5], [80, -4], [40, 0]].forEach(([v, dy]) => {
  svg.append("text").attr("x", 1218).attr("y", yR(v) + dy + 24).attr("text-anchor", "end").attr("font-size", axisFont).text(v);
});
[[-150, -10], [0, 2], [150, 0]].forEach(([v, dx]) => {
  svg.append("text").attr("x", xR(v) + dx).attr("y", 962).attr("text-anchor", "middle").attr("font-size", axisFont).text(v);
});
const phiTitle = svg.append("text").attr("x", 1411).attr("y", 1036).attr("font-size", 68);
phiTitle.append("tspan").text("Azimuthal angle ");
phiTitle.append("tspan").style("font-family", "Liberation Serif").attr("font-size", 76).text("φ");
phiTitle.append("tspan").text(" [°]");

const thetaTitle = svg.append("text").attr("x", 1122).attr("y", 96).attr("font-size", 68);
thetaTitle.append("tspan").style("font-family", "Liberation Serif").attr("font-size", 76).text("θ");
thetaTitle.append("tspan").text(" [°]");
svg.append("text").attr("x", 1327).attr("y", 101).attr("font-size", 84).style("fill", "#cc00cc")
  .attr("textLength", 337).attr("lengthAdjust", "spacingAndGlyphs").text("Support");
svg.append("text").attr("x", 1731).attr("y", 101).attr("font-size", 68)
  .attr("textLength", 378).attr("lengthAdjust", "spacingAndGlyphs").text("#RadLength");
</script>
</body>
</html>
